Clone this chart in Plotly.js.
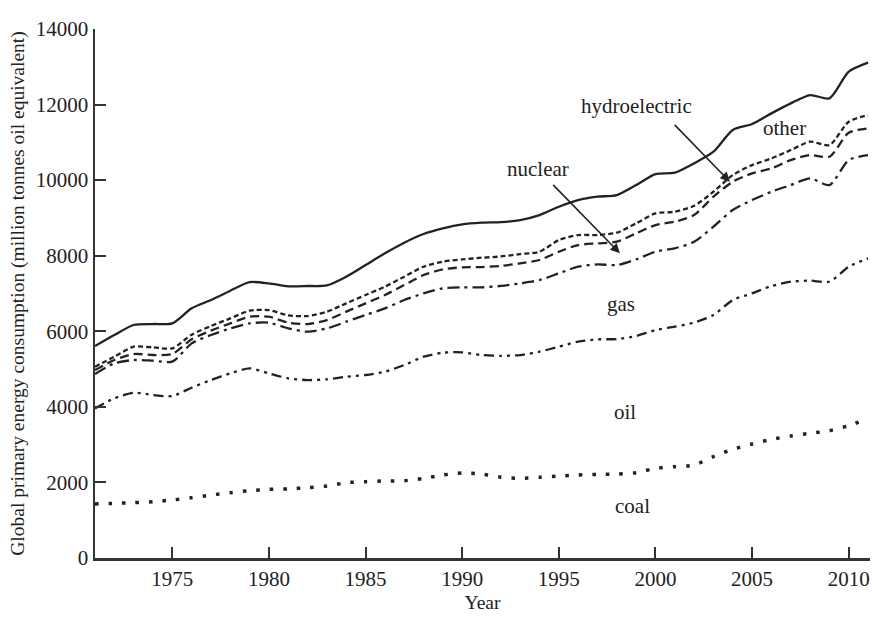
<!DOCTYPE html>
<html>
<head>
<meta charset="utf-8">
<script src="https://cdn.plot.ly/plotly-3.0.1.min.js"></script>
<style>html,body{margin:0;padding:0;background:#fff;}#chart{width:872px;height:617px;}</style>
</head>
<body>
<div id="chart"></div>
<script>
// Years
const years = [1971,1972,1973,1974,1975,1976,1977,1978,1979,1980,1981,1982,1983,1984,1985,1986,1987,1988,1989,1990,1991,1992,1993,1994,1995,1996,1997,1998,1999,2000,2001,2002,2003,2004,2005,2006,2007,2008,2009,2010,2011];
// Cumulative curves (million tonnes oil equivalent)
const coal = [1430,1447,1464,1491,1535,1597,1667,1729,1782,1817,1830,1861,1905,1993,2020,2038,2046,2108,2196,2249,2223,2140,2108,2135,2170,2196,2214,2223,2258,2373,2417,2461,2681,2876,3017,3140,3228,3299,3369,3502,3696];
const oilTop = [3960,4225,4375,4313,4287,4507,4710,4887,5019,4887,4754,4710,4728,4798,4843,4931,5107,5328,5434,5442,5372,5350,5372,5460,5592,5725,5786,5795,5875,6033,6122,6230,6430,6827,7003,7198,7312,7340,7312,7709,7930];
const gasTop = [4869,5151,5240,5222,5195,5680,5901,6077,6210,6228,6077,5989,6077,6254,6430,6607,6827,7003,7136,7162,7162,7200,7268,7356,7533,7709,7771,7753,7903,8106,8195,8371,8768,9209,9473,9694,9870,10047,9870,10532,10664];
const nuclearTop = [4975,5240,5398,5372,5400,5790,6016,6210,6386,6386,6228,6192,6298,6519,6739,6960,7224,7489,7639,7692,7700,7730,7797,7886,8106,8283,8327,8371,8591,8812,8900,9076,9561,9958,10179,10311,10532,10664,10620,11255,11370];
const hydroTop = [5063,5328,5592,5575,5548,5910,6139,6342,6545,6562,6420,6404,6519,6739,6960,7180,7445,7709,7842,7903,7947,7980,8044,8106,8415,8547,8547,8609,8856,9121,9165,9320,9694,10135,10399,10576,10796,11017,10929,11546,11723];
const total = [5610,5901,6166,6192,6210,6607,6827,7074,7300,7268,7190,7198,7215,7445,7753,8062,8344,8574,8724,8830,8874,8890,8944,9076,9297,9473,9562,9606,9870,10161,10197,10444,10752,11326,11485,11767,12031,12252,12164,12870,13108];

const yTicks = [0,2000,4000,6000,8000,10000,12000,14000];
const xTicks = [1975,1980,1985,1990,1995,2000,2005,2010];

const ink = '#222';
const FONT = 'Liberation Serif, Times New Roman, serif';

function tr(y, dash, w) {
  return {x: years, y: y, type: 'scatter', mode: 'lines',
    line: {color: ink, width: w || 2.3, dash: dash, shape: 'spline', smoothing: 0.7},
    hoverinfo: 'skip', showlegend: false};
}

const data = [
  tr(coal, '3.5px,10px', 3.5),
  tr(oilTop, '10px,5px,3px,5px,3px,5px'),
  tr(gasTop, '12px,5px,3px,5px'),
  tr(nuclearTop, '9px,5px'),
  tr(hydroTop, '5px,3px'),
  tr(total, 'solid')
];

const labels = [
  {t: 'hydroelectric', x: 1999.0, y: 11950},
  {t: 'nuclear', x: 1993.9, y: 10300},
  {t: 'other', x: 2006.7, y: 11380},
  {t: 'gas', x: 1998.2, y: 6720},
  {t: 'oil', x: 1998.4, y: 3870},
  {t: 'coal', x: 1998.8, y: 1380}
];

const annotations = labels.map(l => ({
  x: l.x, y: l.y, xref: 'x', yref: 'y', text: l.t, showarrow: false,
  font: {family: FONT, size: 21, color: ink}
}));
annotations.push({x: 1998.16, y: 8063, ax: 1994.63, ay: 9915, xref: 'x', yref: 'y', axref: 'x', ayref: 'y',
  showarrow: true, arrowhead: 2, arrowsize: 1.2, arrowwidth: 1.6, arrowcolor: ink, text: ''});
annotations.push({x: 2003.85, y: 9958, ax: 2000.92, ay: 11503, xref: 'x', yref: 'y', axref: 'x', ayref: 'y',
  showarrow: true, arrowhead: 2, arrowsize: 1.2, arrowwidth: 1.6, arrowcolor: ink, text: ''});

const layout = {
  width: 872, height: 617,
  margin: {l: 95, r: 2, t: 29, b: 59, pad: 0},
  paper_bgcolor: '#fff', plot_bgcolor: '#fff',
  font: {family: FONT, size: 21, color: ink},
  xaxis: {
    range: [1971, 2011.1], tickvals: xTicks, ticktext: xTicks.map(String),
    ticks: 'inside', ticklen: 11, tickwidth: 2, tickcolor: '#333',
    showline: true, linewidth: 2.5, linecolor: '#333', showgrid: false, zeroline: false,
    tickfont: {family: FONT, size: 21, color: ink},
    title: {text: 'Year', font: {family: FONT, size: 19.5, color: ink}, standoff: 6}
  },
  yaxis: {
    range: [0, 14000], tickvals: yTicks, ticktext: yTicks.map(String),
    ticks: 'inside', ticklen: 11, tickwidth: 2, tickcolor: '#333',
    showline: true, linewidth: 2.5, linecolor: '#333', showgrid: false, zeroline: false,
    tickfont: {family: FONT, size: 21, color: ink},
    title: {text: 'Global primary energy consumption (million tonnes oil equivalent)', font: {family: FONT, size: 19.5, color: ink}, standoff: 6}
  },
  annotations: annotations,
  showlegend: false
};

Plotly.newPlot('chart', data, layout, {displayModeBar: false, staticPlot: true});
</script>
</body>
</html>
